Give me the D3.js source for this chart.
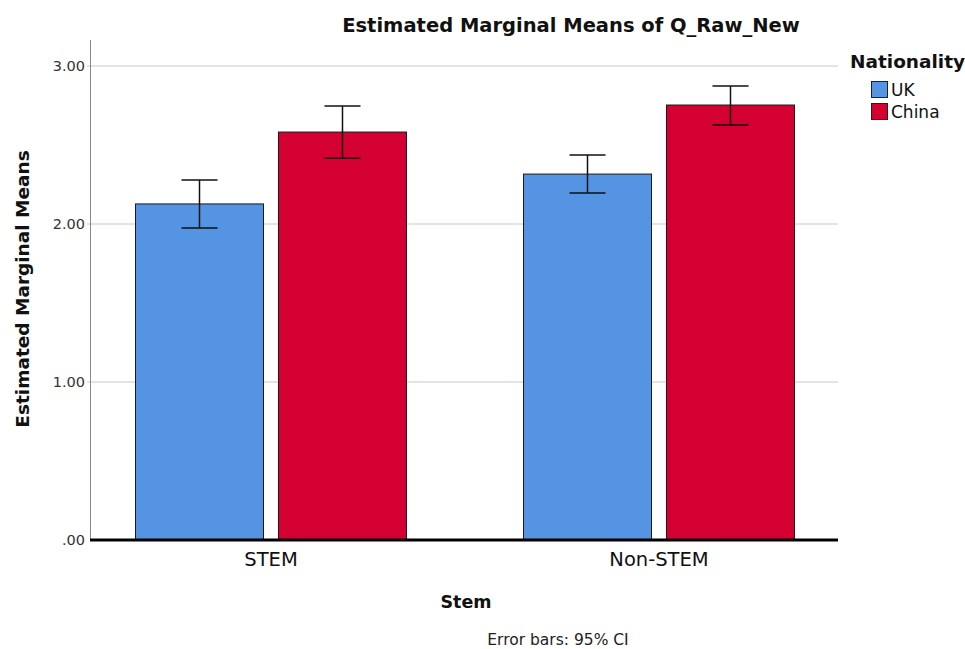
<!DOCTYPE html>
<html><head><meta charset="utf-8">
<script src="https://cdn.jsdelivr.net/npm/d3@7"></script>
<style>body{margin:0;background:#fff;} text{font-family:"DejaVu Sans",sans-serif;}</style>
</head><body>
<svg id="c" width="965" height="649"></svg>
<script>
const categories = ["STEM", "Non-STEM"];
const groups = ["UK", "China"];
const ukMeans = [2.127, 2.316];
const chinaMeans = [2.582, 2.753];
const ukLower = [1.975, 2.196];
const ukUpper = [2.278, 2.437];
const chinaLower = [2.418, 2.627];
const chinaUpper = [2.747, 2.873];
const yTicks = [0, 1, 2, 3];
const yTickLabels = [".00", "1.00", "2.00", "3.00"];
const colors = {UK: "#5594e3", China: "#d50032"};

(function () {
const data = [];
categories.forEach((c, i) => {
  data.push({cat: c, grp: "UK", v: ukMeans[i], lo: ukLower[i], hi: ukUpper[i]});
  data.push({cat: c, grp: "China", v: chinaMeans[i], lo: chinaLower[i], hi: chinaUpper[i]});
});

const svg = d3.select("#c");
const pLeft = 90, pRight = 838, pTop = 40, pBottom = 540;
const y = d3.scaleLinear().domain([0, 3]).range([pBottom, 66]);
const x0 = d3.scaleBand().domain(categories).range([77, 853]).paddingInner(0).paddingOuter(0);
const groupW = 272;
const x1 = d3.scaleBand().domain(groups).range([0, groupW]).paddingInner(14/143).paddingOuter(0);
const gx = c => x0(c) + (x0.bandwidth() - groupW) / 2;

// gridlines
svg.append("g").selectAll("line").data(yTicks.filter(d => d > 0)).join("line")
  .attr("x1", pLeft - 3).attr("x2", pRight)
  .attr("y1", d => y(d)).attr("y2", d => y(d))
  .attr("stroke", "#c8c8c8").attr("stroke-width", 1);

// y axis
const yAxis = d3.axisLeft(y).tickValues(yTicks).tickSize(0).tickPadding(5)
  .tickFormat((d, i) => yTickLabels[i]);
const ya = svg.append("g").attr("transform", `translate(${pLeft},0)`).call(yAxis);
ya.select(".domain").remove();
ya.selectAll("text").attr("font-size", 14.5).attr("fill", "#333").attr("font-family", "DejaVu Sans");
svg.append("line").attr("x1", pLeft + 0.5).attr("x2", pLeft + 0.5).attr("y1", pTop).attr("y2", pBottom)
  .attr("stroke", "#888").attr("stroke-width", 1);

// bars
svg.append("g").selectAll("rect").data(data).join("rect")
  .attr("x", d => gx(d.cat) + x1(d.grp) + 0.5)
  .attr("width", x1.bandwidth() - 1)
  .attr("y", d => y(d.v))
  .attr("height", d => pBottom - y(d.v))
  .attr("fill", d => colors[d.grp])
  .attr("stroke", "#1a1a1a").attr("stroke-width", 1);

// error bars
const eb = svg.append("g").attr("stroke", "#111").attr("stroke-width", 1.5);
data.forEach(d => {
  const cx = gx(d.cat) + x1(d.grp) + x1.bandwidth() / 2;
  eb.append("line").attr("x1", cx).attr("x2", cx).attr("y1", y(d.hi)).attr("y2", y(d.lo));
  eb.append("line").attr("x1", cx - 18).attr("x2", cx + 18).attr("y1", y(d.hi)).attr("y2", y(d.hi));
  eb.append("line").attr("x1", cx - 18).attr("x2", cx + 18).attr("y1", y(d.lo)).attr("y2", y(d.lo));
});

// x axis
const xAxis = d3.axisBottom(x0).tickSize(0).tickPadding(12);
const xa = svg.append("g").attr("transform", `translate(0,${pBottom})`).call(xAxis);
xa.select(".domain").remove();
xa.selectAll("text").attr("font-size", 19.5).attr("fill", "#111").attr("font-family", "DejaVu Sans");
svg.append("line").attr("x1", pLeft).attr("x2", pRight).attr("y1", pBottom).attr("y2", pBottom)
  .attr("stroke", "#000").attr("stroke-width", 3);

// titles
svg.append("text").attr("x", 571).attr("y", 32).attr("text-anchor", "middle")
  .attr("font-size", 19.5).attr("font-weight", "bold").attr("fill", "#111")
  .text("Estimated Marginal Means of Q_Raw_New");
svg.append("text").attr("transform", "translate(29,289) rotate(-90)").attr("text-anchor", "middle")
  .attr("font-size", 18.5).attr("font-weight", "bold").attr("fill", "#111")
  .text("Estimated Marginal Means");
svg.append("text").attr("x", 466).attr("y", 608).attr("text-anchor", "middle")
  .attr("font-size", 17.5).attr("font-weight", "bold").attr("fill", "#111").text("Stem");
svg.append("text").attr("x", 558).attr("y", 645).attr("text-anchor", "middle")
  .attr("font-size", 15.5).attr("fill", "#222").text("Error bars: 95% CI");

// legend
svg.append("text").attr("x", 850).attr("y", 68).attr("font-size", 18.5).attr("font-weight", "bold")
  .attr("fill", "#111").text("Nationality");
const lg = svg.append("g").selectAll("g").data(groups).join("g")
  .attr("transform", (d, i) => `translate(871,${81 + i * 22})`);
lg.append("rect").attr("x", 0.5).attr("y", 0.5).attr("width", 16).attr("height", 16)
  .attr("fill", d => colors[d]).attr("stroke", "#222").attr("stroke-width", 1);
lg.append("text").attr("x", 20).attr("y", 15).attr("font-size", 17).attr("fill", "#111").text(d => d);
})();
</script>
</body></html>
